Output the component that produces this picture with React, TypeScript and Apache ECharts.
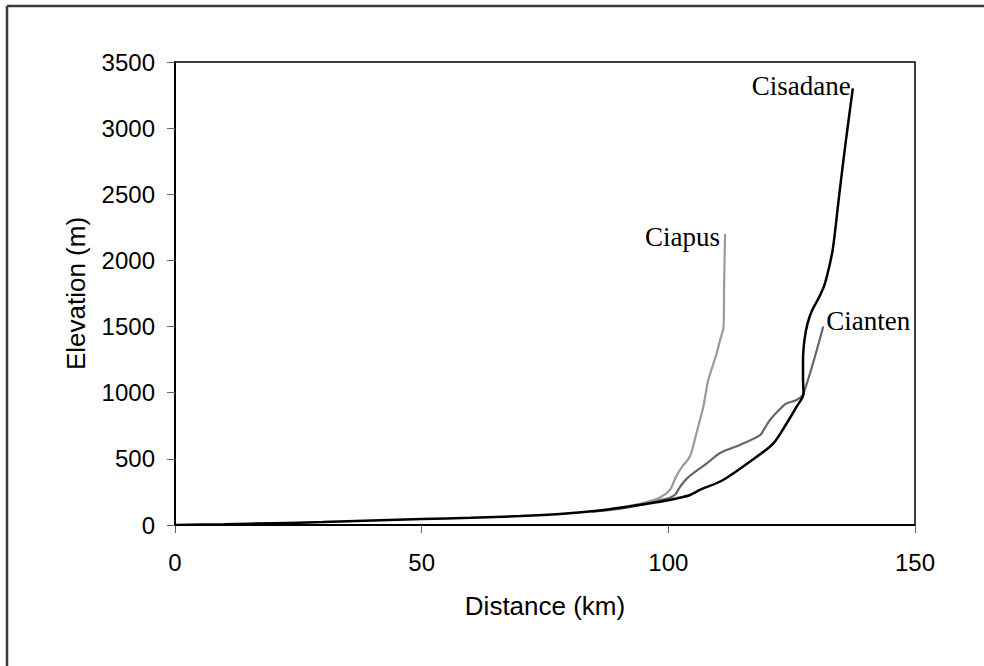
import React, { useEffect, useRef } from "react";
import * as echarts from "echarts";

const xTicks = [0, 50, 100, 150];
const yTicks = [0, 500, 1000, 1500, 2000, 2500, 3000, 3500];

const cisadane: [number, number][] = [
  [0, 0], [10, 6], [20, 14], [30, 22], [40, 34], [50, 45], [60, 55], [70, 68], [78, 83],
  [85, 105], [91.6, 138], [98.3, 176], [101.7, 201], [104.4, 227], [106.4, 265],
  [111.1, 340], [117.9, 516], [121.3, 617], [124, 769], [126, 894], [127.4, 995],
  [127.3, 1100], [127.3, 1250], [127.6, 1400], [128.2, 1520], [129.1, 1620],
  [130.4, 1710], [131.6, 1810], [132.6, 1950], [133.4, 2100], [134.5, 2450],
  [135.5, 2760], [136.5, 3050], [137.4, 3300],
];

const cianten: [number, number][] = [
  [84.5, 100], [90, 122], [95, 156], [98.3, 188], [100.3, 206], [101.4, 230],
  [102.4, 290], [104, 360], [107.8, 466], [110.5, 544], [114.5, 605], [118.6, 680],
  [119.5, 730], [120.6, 794], [122.6, 875], [124, 920], [126, 945], [127.4, 995],
  [131.4, 1500],
];

const ciapus: [number, number][] = [
  [84.5, 100], [90, 130], [95, 168], [98.3, 208], [100.3, 265], [101.7, 375],
  [103, 450], [104.4, 520], [105.7, 693], [106.4, 794], [107.1, 894], [107.6, 1000],
  [108.1, 1096], [109.8, 1298], [110.5, 1400], [111.2, 1500], [111.3, 1800],
  [111.5, 2200],
];

const serif = "'Liberation Serif', 'Times New Roman', serif";
const sans = "'Liberation Sans', Arial, sans-serif";

export default function App() {
  const ref = useRef<HTMLDivElement>(null);
  useEffect(() => {
    document.body.style.margin = "0";
    const chart = echarts.init(ref.current!, undefined, { renderer: "svg" });
    const endLabel = (align: string, offset: number[]) => ({
      show: true,
      formatter: "{a}",
      fontFamily: serif,
      fontSize: 27,
      color: "#000",
      distance: 0,
      align,
      offset,
    });
    chart.setOption({
      animation: false,
      backgroundColor: "#fff",
      grid: {
        left: 175,
        top: 62,
        right: 69,
        bottom: 141,
        show: true,
        borderColor: "#000",
        borderWidth: 1.5,
        containLabel: false,
      },
      graphic: [
        {
          type: "line",
          shape: { x1: 7, y1: 6, x2: 984, y2: 6 },
          style: { stroke: "#3a3a3a", lineWidth: 2.5 },
          silent: true,
        },
        {
          type: "line",
          shape: { x1: 7, y1: 6, x2: 7, y2: 666 },
          style: { stroke: "#3a3a3a", lineWidth: 2.5 },
          silent: true,
        },
      ],
      xAxis: {
        type: "value",
        min: xTicks[0],
        max: xTicks[xTicks.length - 1],
        interval: xTicks[1] - xTicks[0],
        name: "Distance (km)",
        nameLocation: "middle",
        nameGap: 68,
        nameTextStyle: { fontFamily: sans, fontSize: 26, color: "#000" },
        axisLine: { show: true, lineStyle: { color: "#000", width: 2 } },
        axisTick: { show: true, length: 8, lineStyle: { color: "#666", width: 1 } },
        axisLabel: {
          fontFamily: sans, fontSize: 24, color: "#000", margin: 25,
          formatter: (v: number) => String(v),
        },
        splitLine: { show: false },
      },
      yAxis: {
        type: "value",
        min: yTicks[0],
        max: yTicks[yTicks.length - 1],
        interval: yTicks[1] - yTicks[0],
        name: "Elevation (m)",
        nameLocation: "middle",
        nameGap: 86,
        nameTextStyle: { fontFamily: sans, fontSize: 26, color: "#000" },
        axisLine: { show: true, lineStyle: { color: "#000", width: 2 } },
        axisTick: { show: true, length: 8, lineStyle: { color: "#666", width: 1 } },
        axisLabel: {
          fontFamily: sans, fontSize: 24, color: "#000", margin: 20,
          formatter: (v: number) => String(v),
        },
        splitLine: { show: false },
      },
      series: [
        {
          name: "Ciapus",
          type: "line",
          data: ciapus,
          showSymbol: false,
          smooth: 0.3,
          lineStyle: { color: "#9a9a9a", width: 2.2 },
          endLabel: endLabel("right", [-5, 3]),
        },
        {
          name: "Cianten",
          type: "line",
          data: cianten,
          showSymbol: false,
          smooth: 0.3,
          lineStyle: { color: "#666666", width: 2.2 },
          endLabel: endLabel("left", [3, -6]),
        },
        {
          name: "Cisadane",
          type: "line",
          data: cisadane,
          showSymbol: false,
          smooth: 0.3,
          lineStyle: { color: "#000000", width: 2.5 },
          endLabel: endLabel("right", [-2, -2]),
        },
      ],
    });
    return () => chart.dispose();
  }, []);
  return <div ref={ref} style={{ width: 984, height: 666 }} />;
}
